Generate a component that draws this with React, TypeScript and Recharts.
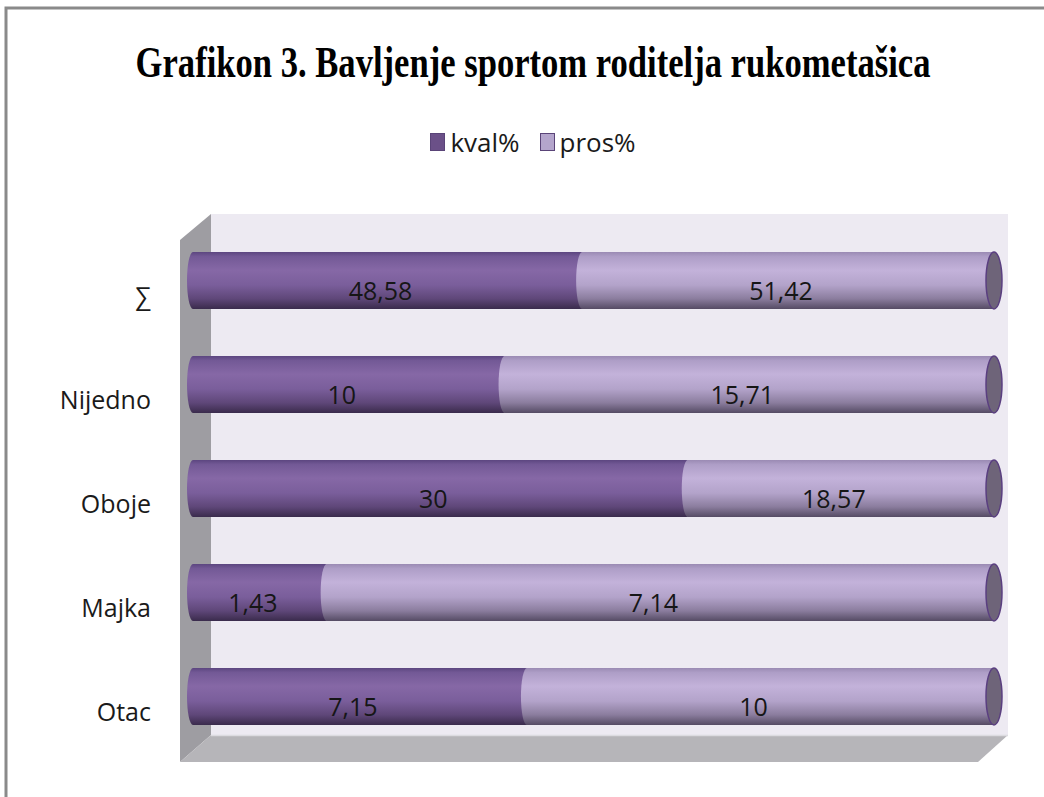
import { BarChart, Bar, XAxis, YAxis, Legend, LabelList } from 'recharts';

const categories = ['∑', 'Nijedno', 'Oboje', 'Majka', 'Otac'];
const kval = [48.58, 10, 30, 1.43, 7.15];
const pros = [51.42, 15.71, 18.57, 7.14, 10];

const data = categories.map((name, i) => ({ name, kval: kval[i], pros: pros[i] }));

const FONT = "'Open Sans', 'DejaVu Sans', sans-serif";
const fmt = (v: number) => String(v).replace('.', ',');

// left end of the cylinder: half ellipse bulging left
function KvalShape(props: any) {
  const { x, y, width, height } = props;
  const rx = 6;
  const d = `M${x + width},${y} L${x},${y} A${rx},${height / 2} 0 0 0 ${x},${y + height} L${x + width},${y + height} Z`;
  return <path d={d} fill="url(#kvalGrad)" />;
}

// second segment: curved seam on the left, cap on the right
function ProsShape(props: any) {
  const { x, y, width, height } = props;
  const rx = 6;
  const d = `M${x + width},${y} L${x},${y} A${rx},${height / 2} 0 0 0 ${x},${y + height} L${x + width},${y + height} Z`;
  return (
    <g>
      <path d={d} fill="url(#prosGrad)" />
      <ellipse
        cx={x + width}
        cy={y + height / 2}
        rx={8}
        ry={height / 2}
        fill="#6E6479"
        stroke="#5A3F80"
        strokeWidth={1.5}
      />
    </g>
  );
}

function makeLabel(values: number[]) {
  return (props: any) => {
    const { x, y, width, height, index } = props;
    return (
      <text
        x={x + width / 2 - 7}
        y={y + height / 2 + 9}
        textAnchor="middle"
        dominantBaseline="central"
        fontFamily={FONT}
        fontSize={25}
        fill="#161616"
      >
        {fmt(values[index])}
      </text>
    );
  };
}

function CategoryTick(props: any) {
  const { x, y, payload } = props;
  return (
    <text
      x={x}
      y={y + 15}
      textAnchor="end"
      dominantBaseline="central"
      fontFamily={FONT}
      fontSize={25}
      fill="#1a1a1a"
    >
      {payload.value}
    </text>
  );
}

function LegendContent(props: any) {
  const items = props.payload || [];
  return (
    <div style={{ display: 'flex', justifyContent: 'center', alignItems: 'center', fontFamily: FONT, fontSize: 26, color: '#1a1a1a' }}>
      {items.map((it: any, i: number) => (
        <div key={it.value} style={{ display: 'flex', alignItems: 'center', marginRight: i === 0 ? 20 : 0 }}>
          <span
            style={{
              display: 'inline-block',
              width: 13,
              height: 16,
              background: it.color,
              border: '1.5px solid #5A4478',
              marginRight: 5,
            }}
          />
          <span>{it.value}</span>
        </div>
      ))}
    </div>
  );
}

export default function App() {
  return (
    <div style={{ position: 'absolute', left: 0, top: 0, width: 1044, height: 797, background: '#fff' }}>
      <svg width={1044} height={797} style={{ position: 'absolute', left: 0, top: 0 }}>
        {/* frame */}
        <rect x={6} y={8} width={1044} height={800} fill="none" stroke="#8a8a8a" strokeWidth={3} />
        {/* 3D walls */}
        <rect x={211} y={214} width={797} height={521} fill="#EDEAF2" />
        <polygon points="180,240 211,214 211,735 180,762" fill="#9E9DA2" />
        <polygon points="211,735 1008,735 978,762 180,762" fill="#B6B5B9" />
        <line x1={211} y1={735.5} x2={1008} y2={735.5} stroke="#DCDBE0" strokeWidth={1.5} />
        <g transform="translate(533,77) scale(0.78,1)">
          <text
            x={0}
            y={0}
            textAnchor="middle"
            fontFamily="'Liberation Serif', 'Times New Roman', serif"
            fontWeight="bold"
            fontSize={45}
            textLength={1019}
            lengthAdjust="spacingAndGlyphs"
            fill="#000"
          >
            Grafikon 3. Bavljenje sportom roditelja rukometašica
          </text>
        </g>
      </svg>
      <div style={{ position: 'absolute', left: 0, top: 0 }}>
        <BarChart
          width={1044}
          height={797}
          data={data}
          layout="vertical"
          stackOffset="expand"
          margin={{ top: 228, right: 50, bottom: 49, left: 93 }}
        >
          <defs>
            <linearGradient id="kvalGrad" x1="0" y1="0" x2="0" y2="1">
              <stop offset="0%" stopColor="#5C4680" />
              <stop offset="8%" stopColor="#735996" />
              <stop offset="32%" stopColor="#8668A6" />
              <stop offset="58%" stopColor="#7A5E9B" />
              <stop offset="82%" stopColor="#5F4779" />
              <stop offset="100%" stopColor="#3A2B4C" />
            </linearGradient>
            <linearGradient id="prosGrad" x1="0" y1="0" x2="0" y2="1">
              <stop offset="0%" stopColor="#9A8AB3" />
              <stop offset="8%" stopColor="#AE9EC7" />
              <stop offset="32%" stopColor="#C3B2DA" />
              <stop offset="58%" stopColor="#B3A3CA" />
              <stop offset="82%" stopColor="#8B7D9E" />
              <stop offset="100%" stopColor="#554B64" />
            </linearGradient>
          </defs>
          <XAxis type="number" domain={[0, 1]} hide />
          <YAxis
            type="category"
            dataKey="name"
            width={100}
            axisLine={false}
            tickLine={false}
            tickSize={0}
            tickMargin={42}
            tick={<CategoryTick />}
          />
          <Legend
            layout="horizontal"
            verticalAlign="middle"
            align="center"
            wrapperStyle={{ top: 124, left: 0, width: 1066 }}
            content={<LegendContent />}
          />
          <Bar dataKey="kval" name="kval%" stackId="a" fill="#6B5088" barSize={57} shape={<KvalShape />} isAnimationActive={false}>
            <LabelList dataKey="kval" content={makeLabel(kval)} />
          </Bar>
          <Bar dataKey="pros" name="pros%" stackId="a" fill="#B4A5CC" barSize={57} shape={<ProsShape />} isAnimationActive={false}>
            <LabelList dataKey="pros" content={makeLabel(pros)} />
          </Bar>
        </BarChart>
      </div>
    </div>
  );
}
